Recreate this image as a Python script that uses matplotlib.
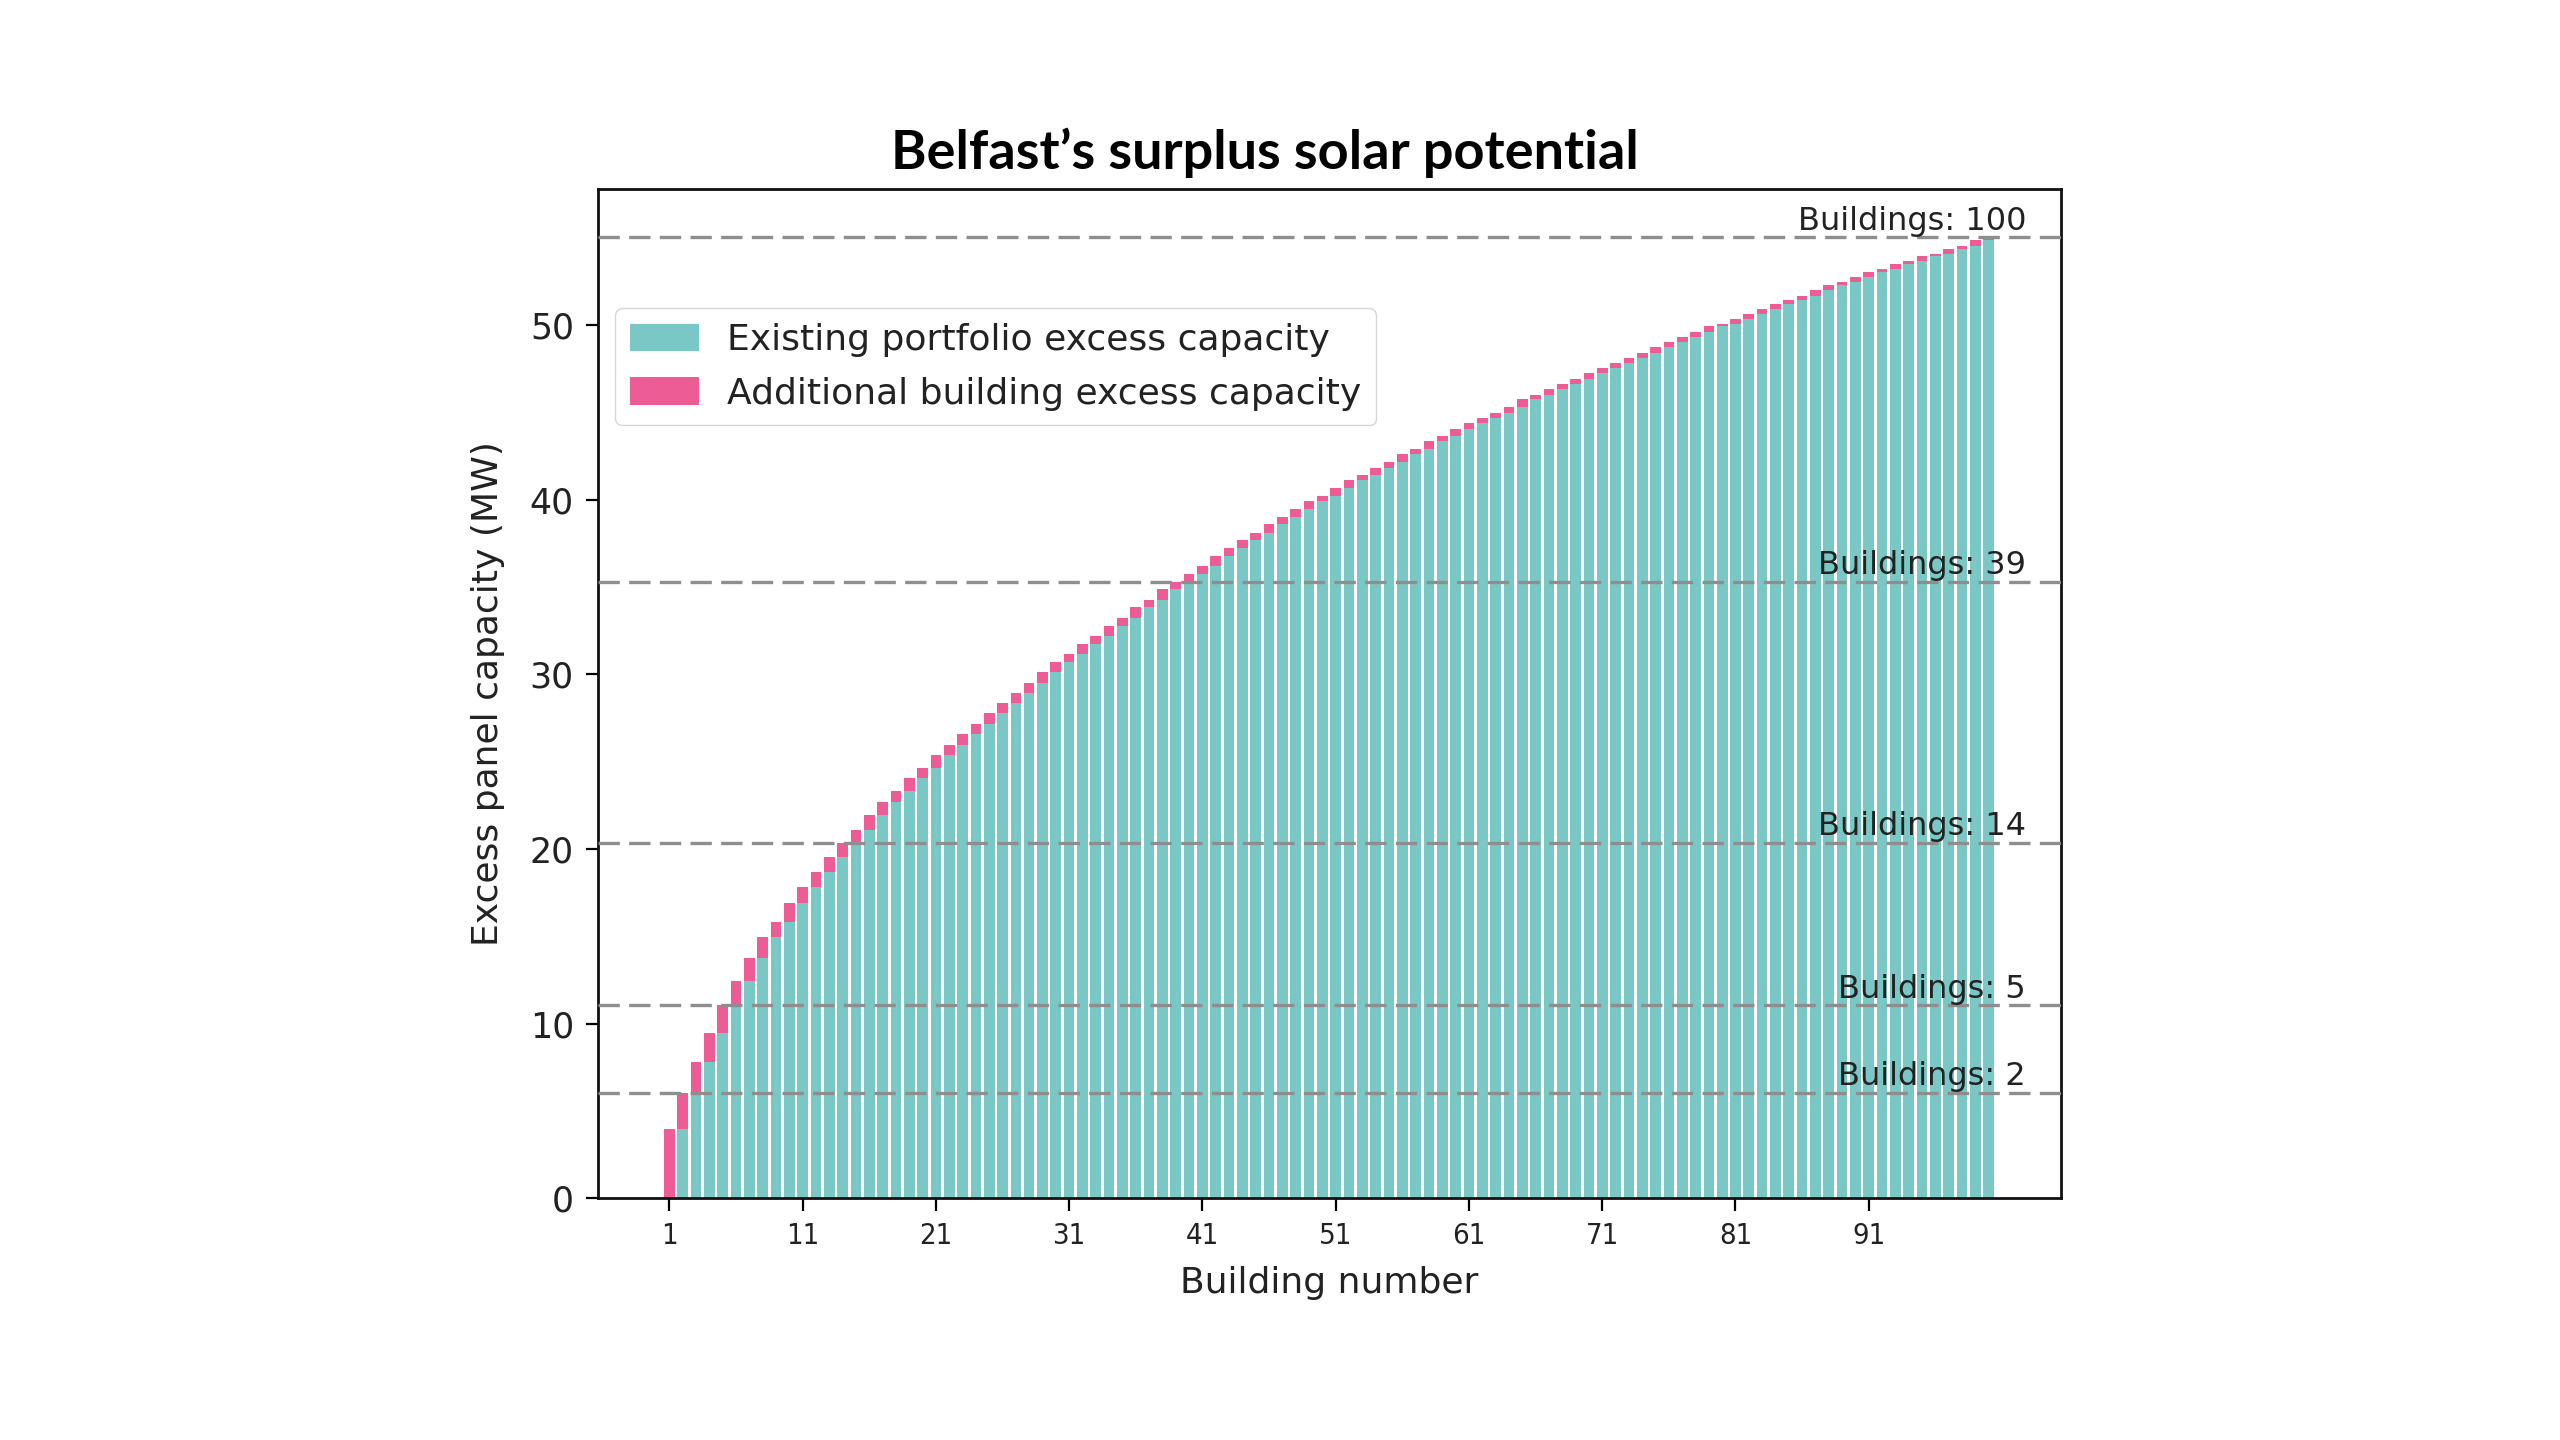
import matplotlib
matplotlib.use("Agg")
import matplotlib.pyplot as plt
import numpy as np

# ---- data ----
building_numbers = list(range(1, 101))
cumulative_mw = [
    3.95, 6.03, 7.82, 9.45, 11.05, 12.44, 13.76, 14.98, 15.84, 16.89,
    17.81, 18.68, 19.56, 20.35, 21.09, 21.95, 22.71, 23.32, 24.05, 24.65,
    25.38, 25.95, 26.58, 27.16, 27.77, 28.34, 28.95, 29.54, 30.13, 30.72,
    31.18, 31.73, 32.23, 32.80, 33.26, 33.84, 34.29, 34.87, 35.32, 35.78,
    36.24, 36.79, 37.27, 37.69, 38.13, 38.59, 39.02, 39.46, 39.92, 40.22,
    40.68, 41.12, 41.45, 41.85, 42.17, 42.61, 42.90, 43.35, 43.66, 44.06,
    44.38, 44.71, 45.00, 45.32, 45.76, 46.03, 46.35, 46.63, 46.94, 47.25,
    47.55, 47.84, 48.12, 48.43, 48.74, 49.02, 49.32, 49.63, 49.95, 50.07,
    50.34, 50.62, 50.95, 51.24, 51.43, 51.69, 52.00, 52.28, 52.49, 52.76,
    53.05, 53.22, 53.50, 53.66, 53.94, 54.10, 54.38, 54.56, 54.86, 55.03,
]
milestone_buildings = [2, 5, 14, 39, 100]
xtick_values = list(range(1, 101, 10))
ytick_values = [0, 10, 20, 30, 40, 50]
title_text = "Belfast\u2019s surplus solar potential"
legend_labels = ["Existing portfolio excess capacity", "Additional building excess capacity"]

teal = "#7AC8C5"
pink = "#EE5C96"

cum = np.array(cumulative_mw)
existing = np.concatenate([[0.0], cum[:-1]])
additional = cum - existing

fig = plt.figure(figsize=(25.6, 14.4), dpi=100)
ax = fig.add_axes([0.2334, 0.1678, 0.5715, 0.7007])

ax.bar(building_numbers, existing, width=0.8, color=teal, label=legend_labels[0])
ax.bar(building_numbers, additional, bottom=existing, width=0.8, color=pink,
       label=legend_labels[1])

for n in milestone_buildings:
    v = cum[n - 1]
    ax.axhline(v, color="#8e8e8e", linewidth=2.4, linestyle=(0, (6.4, 2.8)), zorder=3)
    ax.text(102.8, v + 0.45, f"Buildings: {n}", ha="right", va="baseline",
            fontsize=23, color="#222222", zorder=4)

ax.set_xticks(xtick_values)
ax.set_yticks(ytick_values)
ax.tick_params(axis="y", labelsize=25, length=9, width=1.6, pad=8, labelcolor="#222222")
ax.tick_params(axis="x", labelsize=21, length=9, width=1.6, pad=8, labelcolor="#222222")
for lab in ax.get_xticklabels():
    lab.set_fontstretch("condensed")

for sp in ax.spines.values():
    sp.set_linewidth(2.0)
    sp.set_color("#111111")

ax.set_ylabel("Excess panel capacity (MW)", fontsize=26, color="#222222")
ax.yaxis.set_label_coords(-0.063, 0.5)
ax.set_xlabel("Building number", fontsize=26, color="#222222")
ax.xaxis.set_label_coords(0.5, -0.067)

leg = ax.legend(loc="upper left", bbox_to_anchor=(0.0123, 0.882), borderaxespad=0,
                fontsize=26, frameon=True, edgecolor="#cccccc",
                handlelength=1.9, handleheight=0.8, labelspacing=0.55)
for t in leg.get_texts():
    t.set_color("#222222")

fig.text(0.494, 0.894, title_text, ha="center", va="center",
         fontsize=39, fontweight="bold", family=["Lato", "DejaVu Sans"])

fig.savefig("out.png", dpi=100, facecolor="white")
